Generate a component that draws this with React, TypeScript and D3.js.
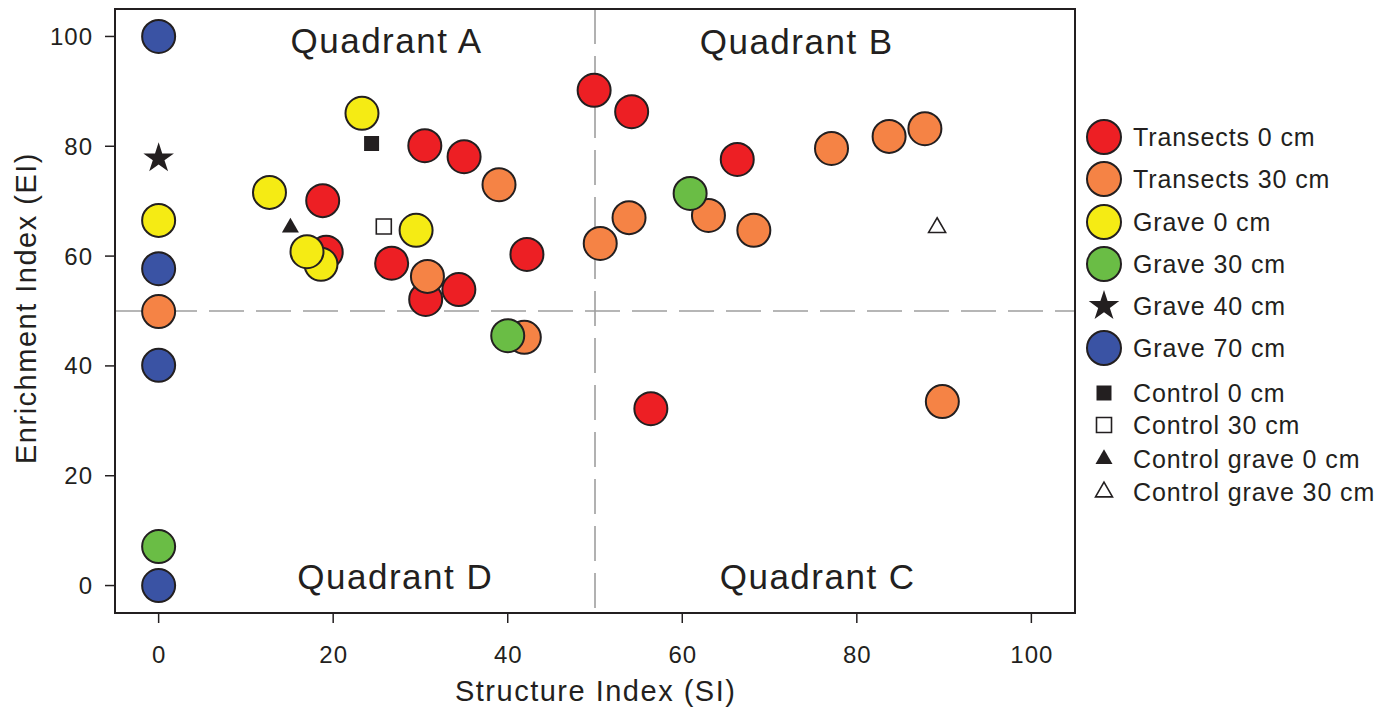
import React from 'react';
import * as d3 from 'd3';

// series values (SI, EI)
const transects0 = [
  [49.9, 90.2], [54.2, 86.3], [30.5, 80.1], [35.0, 78.1], [18.8, 70.1], [66.3, 77.6],
  [19.2, 60.7], [26.7, 58.7], [30.6, 52.1], [34.4, 53.9], [42.2, 60.3], [56.4, 32.2],
];
const transects30 = [
  [39.0, 73.0], [30.8, 56.3], [41.9, 45.2], [50.6, 62.3], [53.9, 67.0], [63.0, 67.4],
  [68.2, 64.7], [77.1, 79.6], [83.7, 81.8], [87.8, 83.2], [89.8, 33.5], [0, 49.9],
];
const grave0 = [[23.3, 86.0], [12.7, 71.6], [0, 66.5], [18.6, 58.5], [17.0, 60.8], [29.5, 64.7]];
const grave30 = [[60.9, 71.4], [40.0, 45.5], [0, 7.1]];
const grave40 = [[0, 77.8]];
const grave70 = [[0, 100], [0, 57.7], [0, 40.1], [0, 0]];
const control0 = [[24.4, 80.5]];
const control30 = [[25.8, 65.4]];
const controlGrave0 = [[15.1, 65.2]];
const controlGrave30 = [[89.2, 65.2]];

const xTicks = [0, 20, 40, 60, 80, 100];
const yTicks = [0, 20, 40, 60, 80, 100];

type Series = { name: string; data: number[][]; shape: string; fill: string };

const series: Series[] = [
  { name: 'Transects 0 cm', data: transects0, shape: 'circle', fill: '#ed1f24' },
  { name: 'Transects 30 cm', data: transects30, shape: 'circle', fill: '#f58345' },
  { name: 'Grave 0 cm', data: grave0, shape: 'circle', fill: '#f5eb14' },
  { name: 'Grave 30 cm', data: grave30, shape: 'circle', fill: '#6abd45' },
  { name: 'Grave 40 cm', data: grave40, shape: 'star', fill: '#231f20' },
  { name: 'Grave 70 cm', data: grave70, shape: 'circle', fill: '#3a53a4' },
  { name: 'Control 0 cm', data: control0, shape: 'square', fill: '#231f20' },
  { name: 'Control 30 cm', data: control30, shape: 'square', fill: '#ffffff' },
  { name: 'Control grave 0 cm', data: controlGrave0, shape: 'triangle', fill: '#231f20' },
  { name: 'Control grave 30 cm', data: controlGrave30, shape: 'triangle', fill: '#ffffff' },
];

const ink = '#231f20';
const font = '"Liberation Sans", Arial, sans-serif';

const starPath = d3.symbol().type(d3.symbolStar).size(290)() as string;
const squarePath = d3.symbol().type(d3.symbolSquare).size(225)() as string;
const trianglePath = d3.symbol().type(d3.symbolTriangle).size(125)() as string;

function Marker({ shape, fill, x, y, r = 16.5 }: { shape: string; fill: string; x: number; y: number; r?: number }) {
  if (shape === 'circle') {
    return <circle cx={x} cy={y} r={r} fill={fill} stroke={ink} strokeWidth={2} />;
  }
  const d = shape === 'star' ? starPath : shape === 'square' ? squarePath : trianglePath;
  const filled = fill !== '#ffffff';
  return (
    <path
      d={d}
      transform={`translate(${x},${y})`}
      fill={fill}
      stroke={ink}
      strokeWidth={filled ? 0 : 1.6}
    />
  );
}

export default function App() {
  const left = 115, right = 1075, top = 9, bottom = 613;
  const x = d3.scaleLinear().domain([-5, 105]).range([left, right]);
  const y = d3.scaleLinear().domain([-5, 105]).range([bottom, top]);

  const legendRows = [137, 179, 222, 264, 306, 348, 393, 425, 459, 492];

  return (
    <svg width={1393} height={711} style={{ position: 'absolute', left: 0, top: 0, background: '#fff' }} fontFamily={font}>
      {/* quadrant dividers */}
      <line x1={x(50)} x2={x(50)} y1={top} y2={bottom} stroke="#9e9e9e" strokeWidth={1.6} strokeDasharray="35 12" />
      <line x1={left} x2={right} y1={y(50)} y2={y(50)} stroke="#9e9e9e" strokeWidth={1.6} strokeDasharray="35 12" />

      {/* quadrant labels */}
      <g fontSize={35} fill={ink} textAnchor="middle" letterSpacing={1.5}>
        <text x={x(26) + 1} y={53}>Quadrant A</text>
        <text x={x(73) + 1} y={54}>Quadrant B</text>
        <text x={x(27) + 1} y={589}>Quadrant D</text>
        <text x={x(75.4) + 1} y={589}>Quadrant C</text>
      </g>

      {/* points */}
      {series.map((s) =>
        s.data.map((p, i) => (
          <Marker key={`${s.name}-${i}`} shape={s.shape} fill={s.fill} x={x(p[0])} y={y(p[1])} />
        ))
      )}

      {/* frame */}
      <rect x={left} y={top} width={right - left} height={bottom - top} fill="none" stroke={ink} strokeWidth={2} />

      {/* x axis */}
      {xTicks.map((t) => (
        <g key={`x${t}`}>
          <line x1={x(t)} x2={x(t)} y1={bottom} y2={bottom + 10} stroke={ink} strokeWidth={1.5} />
          <text x={x(t) + 0.5} y={bottom + 50} textAnchor="middle" fontSize={24} letterSpacing={1} fill={ink}>{t}</text>
        </g>
      ))}
      {/* y axis */}
      {yTicks.map((t) => (
        <g key={`y${t}`}>
          <line x1={left - 10} x2={left} y1={y(t)} y2={y(t)} stroke={ink} strokeWidth={1.5} />
          <text x={left - 22} y={y(t) + 8.5} textAnchor="end" fontSize={24} letterSpacing={1} fill={ink}>{t}</text>
        </g>
      ))}

      <text x={x(50) + 0.7} y={701} textAnchor="middle" fontSize={29} letterSpacing={1.5} fill={ink}>Structure Index (SI)</text>
      <text transform={`translate(36,${y(50) - 3}) rotate(-90)`} textAnchor="middle" fontSize={29} letterSpacing={1.5} fill={ink}>
        Enrichment Index (EI)
      </text>

      {/* legend */}
      {series.map((s, i) => (
        <g key={`leg${i}`}>
          <Marker shape={s.shape} fill={s.fill} x={1104} y={legendRows[i]} r={17} />
          <text x={1133} y={legendRows[i] + 8.5} fontSize={25} letterSpacing={0.9} fill={ink}>{s.name}</text>
        </g>
      ))}
    </svg>
  );
}
